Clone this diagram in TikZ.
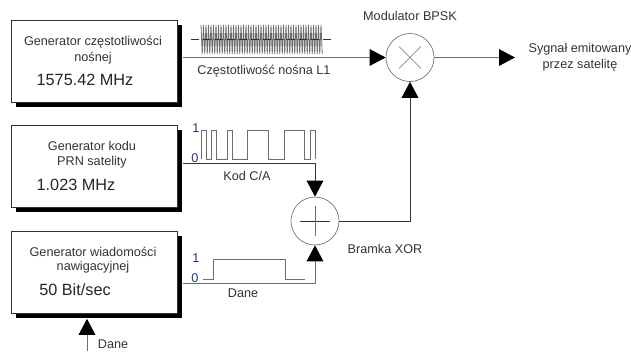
\documentclass[tikz,border=0pt]{standalone}
\usepackage{fontspec}
\setmainfont{Liberation Sans}
\usepackage{xcolor}
\usetikzlibrary{arrows.meta,positioning,calc}
\definecolor{lineblack}{RGB}{50, 50, 50}
\definecolor{linegray}{RGB}{110, 110, 110}
\definecolor{digitblue}{RGB}{30, 60, 120}
\tikzset{
  genbox/.style={draw=lineblack,fill=white,minimum width=124.5pt,minimum height=61.5pt,
                 anchor=north west,line width=0.6pt},
  genshadow/.style={genbox,draw=none,fill=black},
  opcirc/.style={draw=linegray,fill=white,circle,minimum size=36pt,inner sep=0pt,line width=0.5pt},
  arr/.style={-{Triangle[length=12pt,width=12.5pt,color=black]},draw=linegray,line width=0.7pt},
  sig/.style={draw=linegray,line width=0.7pt},
  lab/.style={font=\fontsize{9.5pt}{11pt}\selectfont,text=black!80,align=center,inner sep=0pt},
  freq/.style={font=\fontsize{12.2pt}{13pt}\selectfont,text=black!85,inner sep=0pt},
  bit/.style={font=\fontsize{9.5pt}{10pt}\selectfont,text=digitblue,inner sep=0pt},
}
\begin{document}
\begin{tikzpicture}[x=0.75pt,y=-0.75pt]
        \useasboundingbox (0,0) rectangle (631,351);
        % generators
        \node[genshadow] (shade1) at (16,25) {};
        \node[genshadow] (shade2) at (16,130) {};
        \node[genshadow] (shade3) at (16,236) {};
        \node[genbox] (gen1) at (11,20) {};
        \node[genbox] (gen2) at (11,125) {};
        \node[genbox] (gen3) at (11,231) {};
        \node[lab] at (93,42) {Generator częstotliwości};
        \node[lab] at (93,58) {nośnej};
        \node[freq] at (85,80) {1575.42 MHz};
        \node[lab] at (92,146) {Generator kodu};
        \node[lab] at (92,162) {PRN satelity};
        \node[freq] at (76,185) {1.023 MHz};
        \node[lab] at (93,252) {Generator wiadomości};
        \node[lab] at (93,267) {nawigacyjnej};
        \node[freq] at (75,290) {50 Bit/sec};
        % operators
        \node[opcirc] (mod) at (410,57.5) {};
        \node[opcirc] (xor) at (315,221) {};
        \draw[linegray,line width=0.5pt] ($(mod)+(-11,-11)$)--($(mod)+(11,11)$);
        \draw[linegray,line width=0.5pt] ($(mod)+(-11,11)$)--($(mod)+(11,-11)$);
        \draw[lineblack,line width=0.5pt] ($(xor)+(-15,0)$)--($(xor)+(15,0)$);
        \draw[linegray,line width=0.5pt] ($(xor)+(0,-15)$)--($(xor)+(0,15)$);
        \node[lab] at (410,16) {Modulator BPSK};
        \node[lab] at (385,249) {Bramka XOR};
        % connectors
        \coordinate (out) at (515,57.5);
        \coordinate (in) at (87,351);
        \draw[arr] (shade1.east|-mod)--(mod.west);
        \draw[arr] (mod.east)--(out);
        \draw[arr,draw=lineblack] (xor.east)-|(mod.south);
        \draw[arr,draw=lineblack] (shade2.east|-0,163)-|(xor.north);
        \draw[arr] (shade3.east|-0,283)-|(xor.south);
        \draw[arr] (in)--(shade3.south-|in);
        \node[lab] at (580,49) {Sygnał emitowany};
        \node[lab] at (580,65) {przez satelitę};
        \node[lab] at (264,71) {Częstotliwość nośna L1};
        \node[lab] at (247,176) {Kod C/A};
        \node[lab] at (243,293) {Dane};
        \node[lab] at (113,344) {Dane};
        % signals
        \draw[linegray,line width=0.6pt] (201,25)
          \foreach \i [evaluate=\i as \xa using 201+2.5*\i,evaluate=\i as \xb using 202.25+2.5*\i] in {0,...,48} {--(\xa,25)--(\xb,54)};
        \draw[lineblack,dash pattern=on 6pt off 3pt,line width=0.5pt] (191,39)--(331,39);
        \node[bit] at (196,128) {1};
        \node[bit] at (195,158) {0};
        \draw[sig] (201,159)--(201,130)--(206,130)--(206,159)--(211,159)--(211,130)--(216,130)--(216,159)--(227,159)--(227,130)--(232,130)--(232,159)--(247,159)--(247,130)--(268,130)--(268,159)--(284,159)--(284,130)--(304,130)--(304,159)--(310,159)--(310,130)--(315,130)--(315,159);
        \node[bit] at (196,258) {1};
        \node[bit] at (195,278) {0};
        \draw[sig] (203,279)--(213,279)--(213,259)--(285,259)--(285,279)--(305,279);
      \end{tikzpicture}
\end{document}
